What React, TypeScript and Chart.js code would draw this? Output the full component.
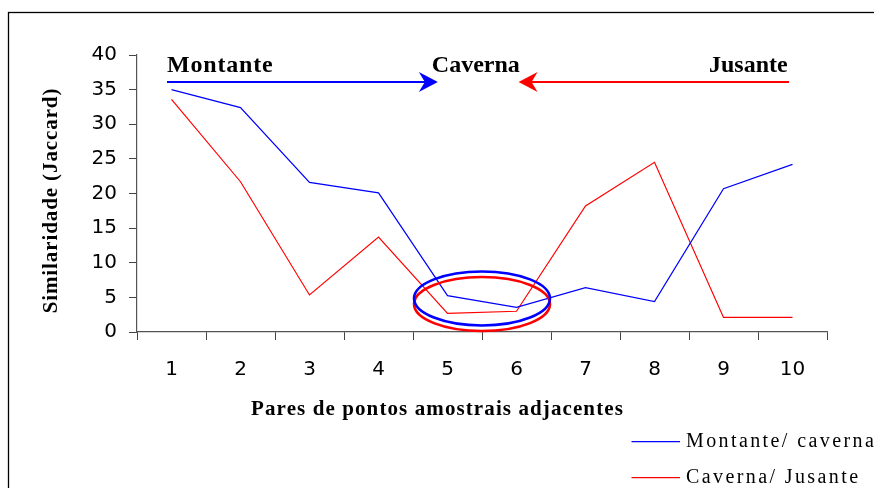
import React, { useEffect, useRef } from "react";
import { Chart, registerables } from "chart.js";

Chart.register(...registerables);

const categories = ["1", "2", "3", "4", "5", "6", "7", "8", "9", "10"];
const montanteCaverna = [35.0, 32.4, 21.6, 20.1, 5.25, 3.55, 6.4, 4.4, 20.7, 24.2];
const cavernaJusante = [33.6, 21.7, 5.35, 13.7, 2.7, 3.0, 18.2, 24.5, 2.1, 2.1];
const seriesLabels = ["Montante/ caverna", "Caverna/ Jusante"];
const seriesColors = ["#0000FF", "#FF0000"];
const yMin = 0;
const yMax = 40;
const yStep = 5;
const xTitle = "Pares de pontos amostrais adjacentes";
const yTitle = "Similaridade (Jaccard)";
const zoneLabels = ["Montante", "Caverna", "Jusante"];

const SERIF = '"Liberation Serif", "Times New Roman", serif';

function drawArrow(ctx: CanvasRenderingContext2D, x1: number, x2: number, yy: number, color: string) {
  const dir = x2 > x1 ? 1 : -1;
  ctx.save();
  ctx.strokeStyle = color;
  ctx.fillStyle = color;
  ctx.lineWidth = 2;
  ctx.beginPath();
  ctx.moveTo(x1, yy);
  ctx.lineTo(x2 - dir * 12, yy);
  ctx.stroke();
  ctx.beginPath();
  ctx.moveTo(x2, yy);
  ctx.lineTo(x2 - dir * 19, yy - 10);
  ctx.lineTo(x2 - dir * 13, yy);
  ctx.lineTo(x2 - dir * 19, yy + 10);
  ctx.closePath();
  ctx.fill();
  ctx.restore();
}

function setSpacing(ctx: any, v: string) {
  try {
    ctx.letterSpacing = v;
  } catch (e) {}
}

const annotPlugin = {
  id: "annot",
  afterDatasetsDraw(chart: any) {
    const { ctx } = chart;
    const x = chart.scales.x;
    const y = chart.scales.y;
    const cx = (x.getPixelForValue(4) + x.getPixelForValue(5)) / 2;
    const rx = (x.getPixelForValue(1) - x.getPixelForValue(0)) * 0.985;
    const ry = y.getPixelForValue(0) - y.getPixelForValue(3.9);
    const ell = [
      { v: 4.04, c: seriesColors[1] },
      { v: 4.84, c: seriesColors[0] },
    ];
    ctx.save();
    ell.forEach((e) => {
      ctx.beginPath();
      ctx.strokeStyle = e.c;
      ctx.lineWidth = 2.6;
      ctx.ellipse(cx, y.getPixelForValue(e.v), rx, ry, 0, 0, Math.PI * 2);
      ctx.stroke();
    });
    ctx.restore();
  },
  afterDraw(chart: any) {
    const { ctx } = chart;
    const x = chart.scales.x;
    const y = chart.scales.y;
    ctx.save();
    // frame
    ctx.strokeStyle = "#000";
    ctx.lineWidth = 1.3;
    ctx.strokeRect(8.5, 12.5, 900, 500);

    // arrows
    const ay = y.getPixelForValue(36.1);
    drawArrow(ctx, x.getPixelForValue(-0.065), x.getPixelForValue(3.86), ay, seriesColors[0]);
    drawArrow(ctx, x.getPixelForValue(8.95), x.getPixelForValue(5.03), ay, seriesColors[1]);

    // zone labels
    const ty = y.getPixelForValue(37.6);
    ctx.fillStyle = "#000";
    ctx.font = `bold 24px ${SERIF}`;
    ctx.textBaseline = "alphabetic";
    ctx.textAlign = "left";
    setSpacing(ctx, "0.8px");
    ctx.fillText(zoneLabels[0], x.getPixelForValue(-0.065), ty);
    setSpacing(ctx, "0px");
    ctx.textAlign = "center";
    ctx.fillText(zoneLabels[1], x.getPixelForValue(4.41), ty);
    ctx.textAlign = "right";
    ctx.fillText(zoneLabels[2], x.getPixelForValue(8.93), ty);

    // axis titles
    ctx.font = `bold 21px ${SERIF}`;
    setSpacing(ctx, "1.1px");
    ctx.textAlign = "left";
    const xw = ctx.measureText(xTitle).width;
    ctx.fillText(xTitle, 437.5 - xw / 2, 415);
    ctx.save();
    ctx.translate(57, 200.5);
    ctx.rotate(-Math.PI / 2);
    setSpacing(ctx, "0.9px");
    const yw = ctx.measureText(yTitle).width;
    ctx.fillText(yTitle, -yw / 2, 0);
    ctx.restore();

    // legend
    ctx.font = `20px ${SERIF}`;
    setSpacing(ctx, "2.4px");
    ctx.textAlign = "left";
    chart.data.datasets.forEach((ds: any, i: number) => {
      const by = 446.7 + i * 36;
      ctx.strokeStyle = ds.borderColor;
      ctx.lineWidth = 1.2;
      ctx.beginPath();
      ctx.moveTo(631.5, by - 5);
      ctx.lineTo(680, by - 5);
      ctx.stroke();
      ctx.fillStyle = "#000";
      ctx.fillText(ds.label, 686, by);
    });
    setSpacing(ctx, "0px");
    ctx.restore();
  },
};

export default function App() {
  const ref = useRef<HTMLCanvasElement | null>(null);
  useEffect(() => {
    if (!ref.current) return;
    const chart = new Chart(ref.current, {
      type: "line",
      data: {
        labels: categories,
        datasets: [
          {
            label: seriesLabels[0],
            data: montanteCaverna,
            borderColor: seriesColors[0],
            backgroundColor: seriesColors[0],
            borderWidth: 1.2,
            pointRadius: 0,
            tension: 0,
          },
          {
            label: seriesLabels[1],
            data: cavernaJusante,
            borderColor: seriesColors[1],
            backgroundColor: seriesColors[1],
            borderWidth: 1.2,
            pointRadius: 0,
            tension: 0,
          },
        ],
      },
      options: {
        animation: false,
        responsive: false,
        devicePixelRatio: 1,
        layout: { padding: { top: 55, right: 47, bottom: 0, left: 0 } },
        plugins: { legend: { display: false }, tooltip: { enabled: false } },
        scales: {
          x: {
            type: "category",
            offset: true,
            grid: { offset: true, drawOnChartArea: false, tickLength: 8, color: "#444", lineWidth: 1 },
            border: { display: true, color: "#555", width: 1.2 },
            ticks: {
              font: { family: "DejaVu Sans", size: 20 },
              color: "#000",
              padding: 18,
              maxRotation: 0,
              autoSkip: false,
            },
            afterFit: (s: any) => {
              s.height = 156;
            },
          },
          y: {
            min: yMin,
            max: yMax,
            grid: { drawOnChartArea: false, tickLength: 8, color: "#444", lineWidth: 1 },
            border: { display: true, color: "#555", width: 1.2 },
            ticks: {
              stepSize: yStep,
              font: { family: "DejaVu Sans", size: 20 },
              color: "#000",
              padding: 12,
            },
            afterFit: (s: any) => {
              s.width = 137;
            },
          },
        },
      },
      plugins: [annotPlugin],
    });
    return () => chart.destroy();
  }, []);
  return (
    <div style={{ position: "absolute", left: 0, top: 0, width: 874, height: 488, background: "#fff" }}>
      <canvas ref={ref} width={874} height={488} style={{ width: 874, height: 488, display: "block" }} />
    </div>
  );
}
